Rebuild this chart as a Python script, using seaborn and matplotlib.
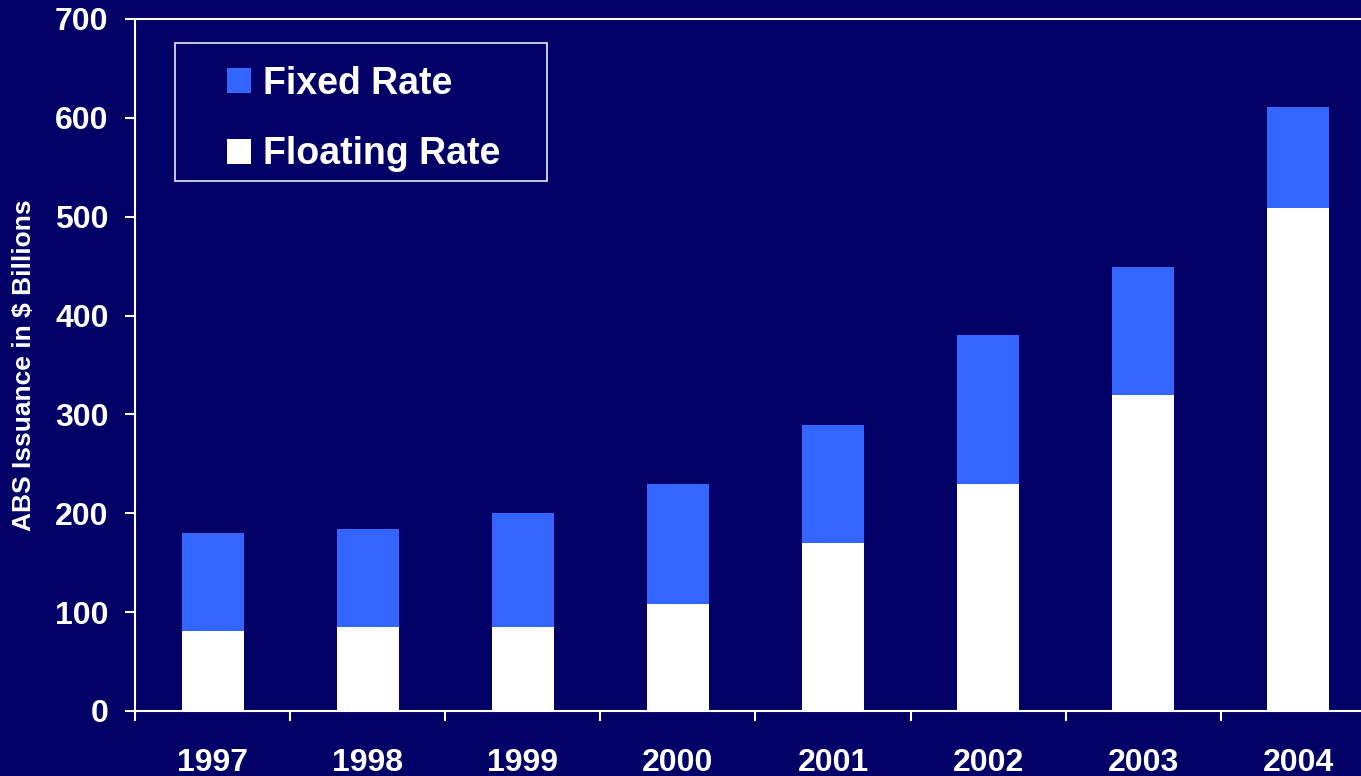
import pandas as pd
import matplotlib
matplotlib.use("Agg")
import matplotlib.pyplot as plt
from matplotlib.patches import Rectangle
from matplotlib.legend_handler import HandlerPatch
import seaborn as sns

years = ["1997", "1998", "1999", "2000", "2001", "2002", "2003", "2004"]
fixed_rate = [99, 99, 115, 122, 119, 150, 129, 102]
floating_rate = [81, 85, 85, 108, 170, 230, 320, 509]
y_ticks = [0, 100, 200, 300, 400, 500, 600, 700]

NAVY = "#000066"
BLUE = "#3366FF"
WHITE = "#FFFFFF"

df = pd.DataFrame({"year": years, "fixed": fixed_rate, "floating": floating_rate})
df["total"] = df["fixed"] + df["floating"]

sns.set_style("white")
plt.rcParams["font.family"] = ["Liberation Sans", "DejaVu Sans"]
plt.rcParams["font.weight"] = "bold"

fig = plt.figure(figsize=(13.61, 7.76), dpi=100, facecolor=NAVY)
ax = fig.add_axes([0.0992, 0.0838, 0.9118, 0.8918])
ax.set_facecolor(NAVY)

# stacked bars: total in blue, floating part drawn over it in white
sns.barplot(data=df, x="year", y="total", color=BLUE, width=0.4,
            saturation=1, linewidth=0, label="Fixed Rate", ax=ax)
sns.barplot(data=df, x="year", y="floating", color=WHITE, width=0.4,
            saturation=1, linewidth=0, label="Floating Rate", ax=ax)

ax.set_xlim(-0.5, len(years) - 0.5)
ax.set_ylim(0, 700)
ax.set_yticks(y_ticks)
ax.set_yticklabels([str(t) for t in y_ticks])
ax.tick_params(axis="y", colors=WHITE, labelsize=23, length=7, width=1.5,
               direction="out", pad=12, left=True)
for lbl in ax.get_yticklabels():
    lbl.set_fontweight("bold")

# category labels at centres, tick marks at the boundaries
ax.set_xticks(range(len(years)))
ax.set_xticklabels(years, fontsize=23, fontweight="bold", color=WHITE)
ax.tick_params(axis="x", which="major", length=0, pad=27, colors=WHITE)
ax.set_xticks([i - 0.5 for i in range(len(years) + 1)], minor=True)
ax.tick_params(axis="x", which="minor", length=7, width=1.5, direction="out",
               colors=WHITE, bottom=True)

ax.set_xlabel("")
ax.set_ylabel("ABS Issuance in $ Billions", fontsize=19, fontweight="bold",
              color=WHITE, labelpad=14)

for side in ["left", "bottom", "top"]:
    ax.spines[side].set_visible(True)
    ax.spines[side].set_color(WHITE)
    ax.spines[side].set_linewidth(1.5)
ax.spines["right"].set_visible(False)
ax.grid(False)


def square_handle(legend, orig_handle, xdescent, ydescent, width, height, fontsize):
    return Rectangle((-xdescent, -ydescent), height, height)


handles, labels = ax.get_legend_handles_labels()
leg = ax.legend(handles, labels, loc="upper left", bbox_to_anchor=(0.0741, 0.932),
                frameon=False, borderpad=0, borderaxespad=0, fontsize=27,
                handlelength=0.64, handleheight=0.64, handletextpad=0.32,
                labelspacing=0.92,
                handler_map={Rectangle: HandlerPatch(patch_func=square_handle)})
for t in leg.get_texts():
    t.set_color(WHITE)
    t.set_fontweight("bold")

ax.add_patch(Rectangle((0.0322, 0.7659), 0.2998, 0.1994, transform=ax.transAxes,
                       fill=False, edgecolor=WHITE, linewidth=1.1, zorder=5))

fig.savefig("out.png", dpi=100, facecolor=NAVY)
